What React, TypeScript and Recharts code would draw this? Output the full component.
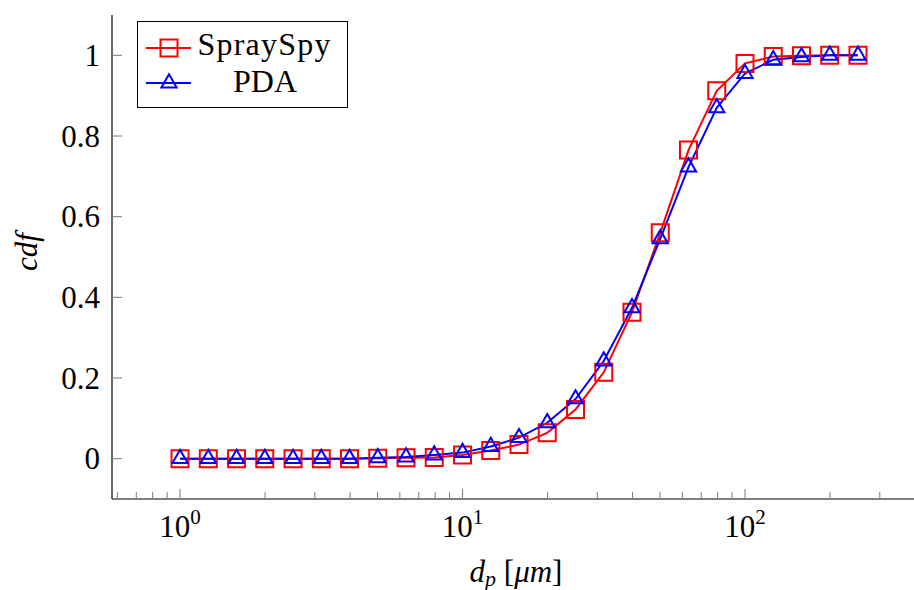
import React from 'react';
import { LineChart, Line, XAxis, YAxis, Legend, Label } from 'recharts';

const diameters = [1, 1.259, 1.585, 1.995, 2.512, 3.162, 3.981, 5.012, 6.31, 7.943, 10, 12.59, 15.85, 19.95, 25.12, 31.62, 39.81, 50.12, 63.1, 79.43, 100, 125.9, 158.5, 199.5, 251.2];
const spraySpy = [0, 0, 0, 0, 0, 0, 0, 0.001, 0.002, 0.003, 0.009, 0.02, 0.035, 0.064, 0.122, 0.214, 0.363, 0.56, 0.765, 0.912, 0.98, 0.997, 0.999, 1, 1];
const pda = [0, 0, 0, 0, 0, 0, 0, 0.002, 0.004, 0.009, 0.015, 0.03, 0.052, 0.089, 0.148, 0.242, 0.374, 0.545, 0.723, 0.87, 0.955, 0.989, 0.996, 1, 1];

const xMajorTicks = [1, 10, 100];
const xMinorTicks = [0.6, 0.7, 0.8, 0.9, 2, 3, 4, 5, 6, 7, 8, 9, 20, 30, 40, 50, 60, 70, 80, 90, 200, 300, 400];
const yTicks = [0, 0.2, 0.4, 0.6, 0.8, 1];
const seriesNames = ['SpraySpy', 'PDA'];

const data = diameters.map((d, i) => ({ d, spraySpy: spraySpy[i], pda: pda[i] }));
const xTicks = [...xMinorTicks, ...xMajorTicks].sort((a, b) => a - b);

const FONT = "'Liberation Serif', 'DejaVu Serif', serif";
const RED = '#ff0000';
const BLUE = '#0000ff';
const TICK = '#7a7a7a';

const isMajor = (v: number) => xMajorTicks.some((m) => Math.abs(m - v) < 1e-9);

const BottomTick = (props: any) => {
  const { x, y, payload } = props;
  const v = payload.value;
  const major = isMajor(v);
  const exp = Math.round(Math.log10(v));
  return (
    <g>
      <line x1={x} x2={x} y1={y} y2={y - (major ? 10 : 7)} stroke={TICK} strokeWidth={1} />
      {major && (
        <text x={x} y={y + 38} textAnchor="middle" fontFamily={FONT} fontSize={31} fill="#000">
          10<tspan dy={-13} fontSize={21}>{exp}</tspan>
        </text>
      )}
    </g>
  );
};

const TopTick = (props: any) => {
  const { x, y, payload } = props;
  const major = isMajor(payload.value);
  return <line x1={x} x2={x} y1={y} y2={y + (major ? 10 : 7)} stroke={TICK} strokeWidth={1} />;
};

const LeftTick = (props: any) => {
  const { x, y, payload } = props;
  return (
    <g>
      <line x1={x} x2={x + 10} y1={y} y2={y} stroke={TICK} strokeWidth={1} />
      <text x={x - 12} y={y + 10.5} textAnchor="end" fontFamily={FONT} fontSize={31} fill="#000">
        {String(payload.value)}
      </text>
    </g>
  );
};

const RightTick = (props: any) => {
  const { x, y } = props;
  return <line x1={x} x2={x - 10} y1={y} y2={y} stroke={TICK} strokeWidth={1} />;
};

const squarePath = (cx: number, cy: number) => `M${cx - 8.5},${cy - 8.5}h17v17h-17Z`;
const trianglePath = (cx: number, cy: number) => `M${cx},${cy - 8.8}L${cx + 7.6},${cy + 4.4}L${cx - 7.6},${cy + 4.4}Z`;

const SquareDot = (props: any) => {
  const { cx, cy, index } = props;
  if (cx == null || cy == null) return <g key={`s${index}`} />;
  return <path key={`s${index}`} d={squarePath(cx, cy)} fill="none" stroke={RED} strokeWidth={2} />;
};

const TriangleDot = (props: any) => {
  const { cx, cy, index } = props;
  if (cx == null || cy == null) return <g key={`t${index}`} />;
  return <path key={`t${index}`} d={trianglePath(cx, cy)} fill="none" stroke={BLUE} strokeWidth={2} />;
};

const XLabel = (props: any) => {
  const vb = props.viewBox || { x: 112, y: 499, width: 814 };
  const cx = vb.x + vb.width / 2 - 3;
  return (
    <text x={cx} y={vb.y + 83} textAnchor="middle" fontFamily={FONT} fontSize={31} fill="#000">
      <tspan fontStyle="italic">d</tspan>
      <tspan fontStyle="italic" fontSize={22} dy={4}>p</tspan>
      <tspan dy={-4}> [</tspan>
      <tspan fontStyle="italic">μm</tspan>
      <tspan>]</tspan>
    </text>
  );
};

const YLabel = () => (
  <text transform="translate(37,252) rotate(-90)" textAnchor="middle" fontFamily={FONT} fontSize={31} fontStyle="italic" fill="#000">
    cdf
  </text>
);

const LegendBox = () => (
  <svg width={211} height={87} style={{ display: 'block' }}>
    <rect x={0.5} y={0.5} width={210} height={86} fill="#fff" stroke="#000" strokeWidth={1} />
    <line x1={9} x2={54} y1={27} y2={27} stroke={RED} strokeWidth={2} />
    <path d={squarePath(32, 27)} fill="none" stroke={RED} strokeWidth={2} />
    <text x={127} y={34} textAnchor="middle" fontFamily={FONT} fontSize={32} fill="#000" textLength={133} lengthAdjust="spacing">
      {seriesNames[0]}
    </text>
    <line x1={9} x2={54} y1={62} y2={62} stroke={BLUE} strokeWidth={2} />
    <path d={trianglePath(32, 62)} fill="none" stroke={BLUE} strokeWidth={2} />
    <text x={128} y={71} textAnchor="middle" fontFamily={FONT} fontSize={32} fill="#000">
      {seriesNames[1]}
    </text>
  </svg>
);

export default function App() {
  return (
    <div style={{ position: 'fixed', left: 0, top: 0, width: 914, height: 590, overflow: 'hidden', background: '#fff' }}>
      <LineChart width={940} height={590} data={data} margin={{ top: 15, right: 14, bottom: 0, left: 0 }}>
        <XAxis
          xAxisId="b"
          dataKey="d"
          type="number"
          scale="log"
          domain={[0.5743, 437.3]}
          allowDataOverflow
          ticks={xTicks}
          interval={0}
          tickSize={0}
          tickMargin={0}
          tickLine={false}
          axisLine={{ stroke: '#000', strokeWidth: 1.2 }}
          height={91}
          tick={<BottomTick />}
        >
          <Label content={<XLabel />} />
        </XAxis>
        <XAxis
          xAxisId="t"
          orientation="top"
          type="number"
          scale="log"
          domain={[0.5743, 437.3]}
          allowDataOverflow
          ticks={xTicks}
          interval={0}
          tickSize={0}
          tickMargin={0}
          tickLine={false}
          axisLine={{ stroke: '#000', strokeWidth: 1.2 }}
          height={0}
          tick={<TopTick />}
        />
        <YAxis
          yAxisId="l"
          type="number"
          domain={[-0.1, 1.1]}
          allowDataOverflow
          ticks={yTicks}
          interval={0}
          tickSize={0}
          tickMargin={0}
          tickLine={false}
          axisLine={{ stroke: '#000', strokeWidth: 1.2 }}
          width={112}
          tick={<LeftTick />}
        >
          <Label content={<YLabel />} />
        </YAxis>
        <YAxis
          yAxisId="r"
          orientation="right"
          type="number"
          domain={[-0.1, 1.1]}
          allowDataOverflow
          ticks={yTicks}
          interval={0}
          tickSize={0}
          tickMargin={0}
          tickLine={false}
          axisLine={{ stroke: '#000', strokeWidth: 1.2 }}
          width={0}
          tick={<RightTick />}
        />
        <Line
          xAxisId="b"
          yAxisId="l"
          type="linear"
          dataKey="spraySpy"
          name={seriesNames[0]}
          stroke={RED}
          strokeWidth={2}
          dot={SquareDot}
          activeDot={false}
          isAnimationActive={false}
        />
        <Line
          xAxisId="b"
          yAxisId="l"
          type="linear"
          dataKey="pda"
          name={seriesNames[1]}
          stroke={BLUE}
          strokeWidth={2}
          dot={TriangleDot}
          activeDot={false}
          isAnimationActive={false}
        />
        <Legend
          layout="horizontal"
          verticalAlign="middle"
          align="center"
          content={<LegendBox />}
          wrapperStyle={{ position: 'absolute', left: 137, top: 21, width: 211, height: 87, margin: 0, padding: 0 }}
        />
      </LineChart>
    </div>
  );
}
